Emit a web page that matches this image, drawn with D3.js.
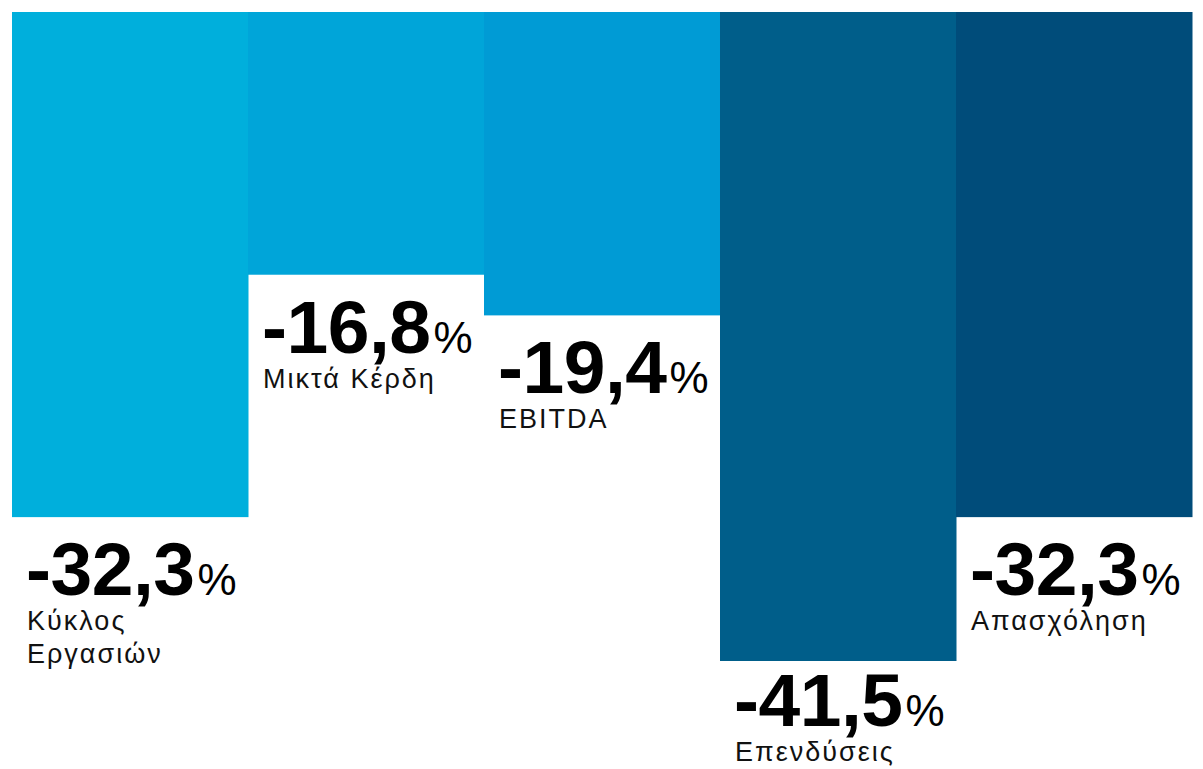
<!DOCTYPE html>
<html>
<head>
<meta charset="utf-8">
<script src="https://cdn.jsdelivr.net/npm/d3@7"></script>
<style>
  html, body { margin: 0; padding: 0; background: #fff; }
  svg { display: block; }
</style>
</head>
<body>
<div id="chart"></div>
<script>
// data
const categories = ["Κύκλος Εργασιών", "Μικτά Κέρδη", "EBITDA", "Επενδύσεις", "Απασχόληση"];
const labelLines = [["Κύκλος", "Εργασιών"], ["Μικτά Κέρδη"], ["EBITDA"], ["Επενδύσεις"], ["Απασχόληση"]];
const changes = [-32.3, -16.8, -19.4, -41.5, -32.3];
const barColors = ["#00afdc", "#00a5d9", "#009bd5", "#005e8a", "#004c7a"];

const width = 1203, height = 769;
const margin = { top: 12, left: 12, right: 11 };

const svg = d3.select("#chart").append("svg")
    .attr("width", width)
    .attr("height", height);

const x = d3.scaleBand()
    .domain(categories)
    .range([margin.left, width - margin.right])
    .paddingInner(0)
    .paddingOuter(0);

const y = d3.scaleLinear()
    .domain([0, d3.min(changes)])
    .range([margin.top, 661]);

const color = d3.scaleOrdinal().domain(categories).range(barColors);

// greek style number: comma as decimal, plain hyphen as minus
const greek = d3.formatLocale({ decimal: ",", thousands: ".", grouping: [3], currency: ["", "€"], minus: "-" });
const fmt = greek.format(".1f");

const data = categories.map((c, i) => ({ cat: c, value: changes[i], lines: labelLines[i] }));

// bars
svg.append("g").attr("class", "bars")
    .selectAll("rect")
    .data(data)
    .enter()
    .append("rect")
    .attr("x", d => x(d.cat))
    .attr("y", y(0))
    .attr("width", x.bandwidth() + 0.5)
    .attr("height", d => y(d.value) - y(0))
    .attr("fill", d => color(d.cat));

// labels under each bar, pushed up a bit when they would run off the bottom
const lineGap = 33, firstLine = 35;
const labels = svg.append("g").attr("class", "labels")
    .selectAll("g")
    .data(data)
    .enter()
    .append("g")
    .attr("transform", d => {
        let ty = y(d.value) + 78;
        ty = Math.min(ty, height - 8 - firstLine - (d.lines.length - 1) * lineGap);
        return "translate(" + (x(d.cat) + 14) + "," + ty + ")";
    });

const val = labels.append("text")
    .attr("font-family", "'Liberation Sans', Arial, sans-serif")
    .attr("fill", "#000");

val.append("tspan")
    .attr("font-size", 75)
    .attr("font-weight", "bold")
    .attr("letter-spacing", -0.5)
    .text(d => fmt(d.value));

val.append("tspan")
    .attr("font-size", 44)
    .attr("dx", 3)
    .text("%");

labels.each(function (d) {
    const t = d3.select(this).append("text")
        .attr("font-family", "'Liberation Sans', Arial, sans-serif")
        .attr("font-size", 27)
        .attr("letter-spacing", 2)
        .attr("fill", "#111");
    d.lines.forEach((ln, i) => {
        t.append("tspan")
            .attr("x", 1)
            .attr("y", firstLine + i * lineGap)
            .text(ln);
    });
});
</script>
</body>
</html>
